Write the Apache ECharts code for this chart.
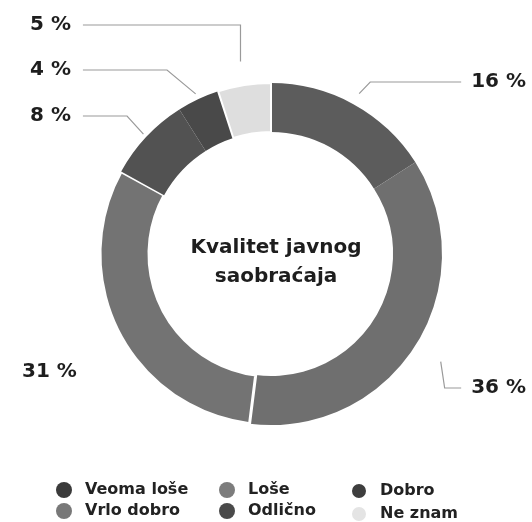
<!DOCTYPE html>
<html>
<head>
<meta charset="utf-8">
<script src="https://cdn.jsdelivr.net/npm/echarts@6/dist/echarts.min.js"></script>
<style>html,body{margin:0;padding:0;background:#fff}#c{width:532px;height:522px}</style>
</head>
<body>
<div id="c"></div>
<script>
const categories = ['Veoma loše', 'Loše', 'Dobro', 'Vrlo dobro', 'Odlično', 'Ne znam'];
const values = [16, 36, 31, 8, 4, 5];
const sliceColors = ['#5c5c5c', '#6f6f6f', '#737373', '#525252', '#494949', '#dedede'];
const legendColors = ['#3a3a3a', '#7c7c7c', '#3e3e3e', '#787878', '#4a4a4a', '#e4e4e4'];
const centerTitle = 'Kvalitet javnog\nsaobraćaja';

// label placement (layout only)
const labelSpots = [[526, 82, 'right'], [526, 388, 'right'], [22, 372, 'left'], [30, 116, 'left'], [30, 70, 'left'], [30, 25, 'left']];
const leaderSlopes = [0.95, 0.15, null, 0.9, 1.2, 0];
const leaderGaps = [12, 30, 0, 4, 6, 24];

const chart = echarts.init(document.getElementById('c'), null, {renderer: 'canvas'});
const FONT = '"DejaVu Sans", Verdana, sans-serif';

const pieData = categories.map((name, i) => {
  const item = {name: name, value: values[i], itemStyle: {color: sliceColors[i]}};
  if (i === 2) item.itemStyle = {color: sliceColors[i], borderColor: '#fff', borderWidth: 3};
  if (i === 2) item.labelLine = {show: false};
  if (i === 5) item.itemStyle = {color: sliceColors[i], borderColor: '#fff', borderWidth: 2};
  return item;
});

function legendCol(left, names) {
  return {
    orient: 'vertical', left: left, top: 477, height: 60, itemGap: 5,
    itemWidth: 16, itemHeight: 16, icon: 'circle',
    selectedMode: false,
    textStyle: {fontFamily: FONT, fontSize: 16, fontWeight: 'bold', color: '#222', lineHeight: 16, padding: [0, 0, 0, 8]},
    data: names.map(n => ({name: n, itemStyle: {color: legendColors[categories.indexOf(n)]}}))
  };
}

chart.setOption({
  animation: false,
  title: {
    text: centerTitle, left: 271, top: 228, textAlign: 'center',
    textStyle: {fontFamily: FONT, fontSize: 20, fontWeight: 'bold', color: '#1e1e1e', lineHeight: 29}
  },
  legend: [
    legendCol(51, [categories[0], categories[3]]),
    legendCol(214, [categories[1], categories[4]]),
    legendCol(345, [categories[2], categories[5]])
  ],
  series: [{
    type: 'pie',
    center: [271, 254],
    radius: [122, 171],
    startAngle: 90,
    clockwise: true,
    avoidLabelOverlap: false,
    selectedMode: false,
    emphasis: {scale: false},
    label: {
      show: true, formatter: '{c} %',
      fontFamily: FONT, fontSize: 20, fontWeight: 'bold', color: '#1e1e1e'
    },
    labelLine: {show: true, length: 10, length2: 10, lineStyle: {color: '#9a9a9a', width: 1.2}},
    labelLayout: function (p) {
      const i = p.dataIndex;
      const s = labelSpots[i];
      const res = {x: s[0], y: s[1], align: s[2], verticalAlign: 'middle'};
      const pts = p.labelLinePoints;
      if (pts && pts.length >= 2 && leaderSlopes[i] !== null) {
        const p0 = pts[0], p1 = pts[1];
        let dx = p1[0] - p0[0], dy = p1[1] - p0[1];
        const len = Math.sqrt(dx * dx + dy * dy) || 1;
        dx /= len; dy /= len;
        const start = [p0[0] + dx * leaderGaps[i], p0[1] + dy * leaderGaps[i]];
        const sign = s[2] === 'left' ? -1 : 1;
        const w = p.labelRect.width;
        const endX = s[2] === 'left' ? s[0] + w + 12 : s[0] - w - 10;
        const elbow = [start[0] + sign * Math.abs(start[1] - s[1]) * leaderSlopes[i], s[1]];
        res.labelLinePoints = [start, elbow, [endX, s[1]]];
      }
      return res;
    },
    data: pieData
  }]
});
</script>
</body>
</html>
